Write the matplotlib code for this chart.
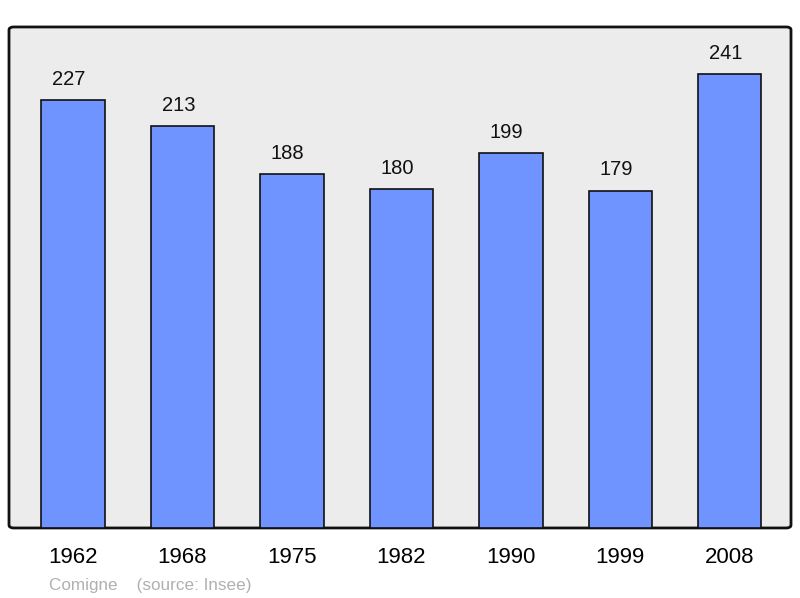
import matplotlib.pyplot as plt
from matplotlib.patches import FancyBboxPatch

plt.rcParams['font.family'] = ['Liberation Sans', 'DejaVu Sans']

years = ["1962", "1968", "1975", "1982", "1990", "1999", "2008"]
population = [227, 213, 188, 180, 199, 179, 241]

fig = plt.figure(figsize=(8, 5.98), dpi=100)
ax = fig.add_axes([0.01125, 0.1171, 0.9775, 0.8378])
ax.set_facecolor('none')

# rounded gray background box
bg = FancyBboxPatch((0, 0), 1, 1, boxstyle="round,pad=0,rounding_size=0.006",
                    transform=ax.transAxes, facecolor='#ececec', edgecolor='#111111',
                    linewidth=2, zorder=0, clip_on=False)
ax.add_patch(bg)

x = range(len(years))
ax.bar(x, population, width=0.58, color='#7094ff', edgecolor='#111111',
       linewidth=1.2, zorder=2)
for xi, v in zip(x, population):
    ax.annotate(str(v), (xi, v), xytext=(-3, 8), textcoords='offset points',
                ha='center', va='bottom', fontsize=14.5, color='#111111')

ax.set_xlim(-0.585, 6.56)
ax.set_ylim(0, 265.8)
ax.set_xticks(list(x))
ax.set_xticklabels(years, fontsize=16)
ax.tick_params(axis='x', length=0, pad=14)
ax.set_yticks([])
for s in ax.spines.values():
    s.set_visible(False)

fig.text(0.061, 0.014, "Comigne    (source: Insee)", color='#b0b0b0', fontsize=12.3)

fig.savefig("out.png", dpi=100)
